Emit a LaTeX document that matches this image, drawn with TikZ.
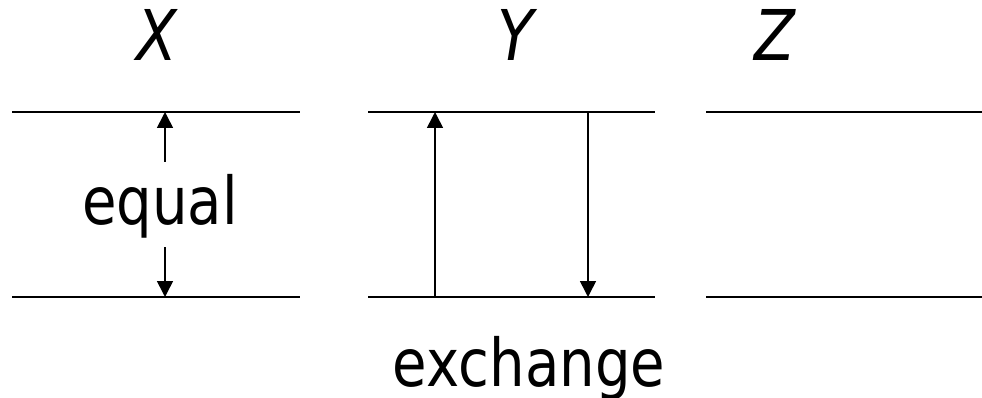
\documentclass[tikz,border=0pt]{standalone}
\usepackage{fontspec}
\setmainfont{DejaVu Sans}
\usetikzlibrary{arrows.meta}
\begin{document}
\begin{tikzpicture}[x=1pt,y=-1pt,
  level/.style={line width=2pt},
  arr/.style={line width=1.6pt,-{Triangle[length=16pt,width=16pt]}},
  lbl/.style={font=\fontsize{66}{70}\selectfont,inner sep=0pt,anchor=base,xscale=0.85},
  var/.style={font=\fontsize{70}{76}\selectfont\itshape,inner sep=0pt,anchor=base,xscale=0.85}]
\useasboundingbox (0,0) rectangle (982,398);
% labels
\node[var] (lx) at (157,61) {X};
\node[var] (ly) at (516,61) {Y};
\node[var] (lz) at (775,61) {Z};
% levels
\coordinate (x1) at (12,112); \coordinate (x2) at (300,112);
\coordinate (x3) at (12,297); \coordinate (x4) at (300,297);
\coordinate (y1) at (368,112); \coordinate (y2) at (655,112);
\coordinate (y3) at (368,297); \coordinate (y4) at (655,297);
\coordinate (z1) at (706,112); \coordinate (z2) at (982,112);
\coordinate (z3) at (706,297); \coordinate (z4) at (982,297);
\draw[level] (x1) -- (x2);
\draw[level] (x3) -- (x4);
\draw[level] (y1) -- (y2);
\draw[level] (y3) -- (y4);
\draw[level] (z1) -- (z2);
\draw[level] (z3) -- (z4);
% equal
\node[lbl] (eq) at (160,225) {equal};
\coordinate (eqt0) at (165,162); \coordinate (eqt1) at (165,112);
\coordinate (eqb0) at (165,247); \coordinate (eqb1) at (165,297);
\draw[arr] (eqt0) -- (eqt1);
\draw[arr] (eqb0) -- (eqb1);
% exchange
\coordinate (ua0) at (435,297); \coordinate (ua1) at (435,112);
\coordinate (da0) at (588,112); \coordinate (da1) at (588,297);
\draw[arr] (ua0) -- (ua1);
\draw[arr] (da0) -- (da1);
\node[lbl] (ex) at (529,386) {exchange};
\end{tikzpicture}
\end{document}
